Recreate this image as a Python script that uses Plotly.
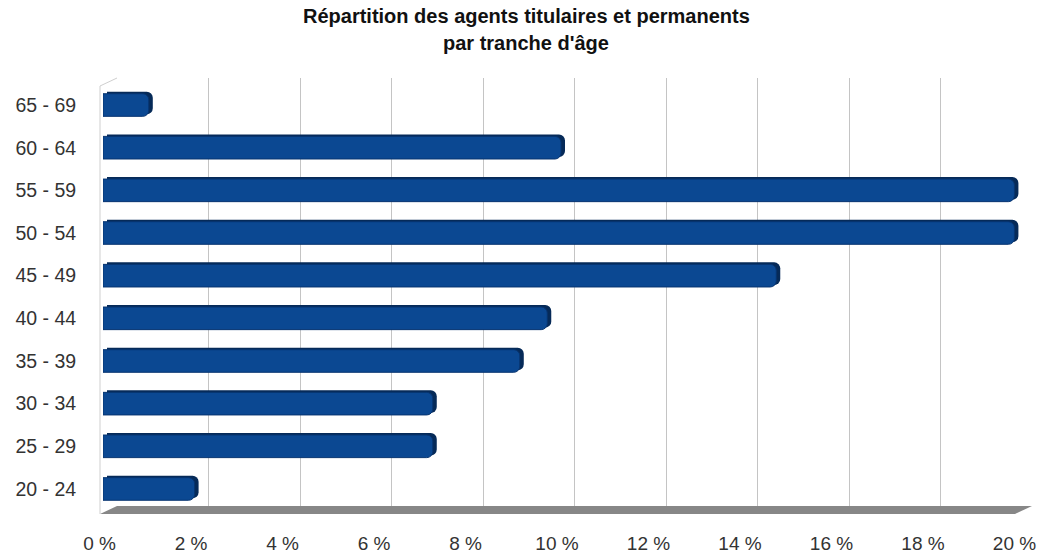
import plotly.graph_objects as go

# Age brackets, bottom to top
tranches = ["20 - 24", "25 - 29", "30 - 34", "35 - 39", "40 - 44",
            "45 - 49", "50 - 54", "55 - 59", "60 - 64", "65 - 69"]
# Share of agents per bracket (%)
parts = [2.0, 7.2, 7.2, 9.1, 9.7, 14.7, 19.9, 19.9, 10.0, 1.0]

x_ticks = list(range(0, 21, 2))
x_ticktext = [f"{v} %" for v in x_ticks]

W, H = 1043, 556
ML, MR, MT, MB = 97, 9, 78, 42
PW, PH = W - ML - MR, H - MT - MB


def fx(px):
    return (px - ML) / PW


def fy(py):
    return (H - MB - py) / PH


FONT = "Liberation Sans, Arial, sans-serif"

fig = go.Figure()

# extruded side of the bars (behind, shifted back)
fig.add_trace(go.Bar(
    y=tranches, x=parts, orientation="h",
    xaxis="x3", yaxis="y3", width=0.53,
    marker=dict(color="#062a58", cornerradius=6, line=dict(width=0)),
    hoverinfo="skip", showlegend=False,
))
# front face of the bars
fig.add_trace(go.Bar(
    y=tranches, x=parts, orientation="h",
    xaxis="x4", yaxis="y4", width=0.53,
    marker=dict(color="#0b4892", cornerradius=6,
                line=dict(width=1, color="#073470")),
    showlegend=False,
))
# empty traces so the label axis and the grid axis are drawn
fig.add_trace(go.Scatter(x=[None], y=[None], xaxis="x", yaxis="y",
                         showlegend=False, hoverinfo="skip"))
fig.add_trace(go.Scatter(x=[None], y=[None], xaxis="x2", yaxis="y2",
                         showlegend=False, hoverinfo="skip"))

# floor and left wall outline
fl = [(100, 514), (1015, 514), (1032, 506), (117, 506)]
path = "M " + " L ".join(f"{fx(a):.5f},{fy(b):.5f}" for a, b in fl) + " Z"
shapes = [
    dict(type="path", path=path, xref="paper", yref="paper",
         fillcolor="#878787", line=dict(width=0), layer="below"),
    dict(type="line", xref="paper", yref="paper",
         x0=fx(100), y0=fy(514), x1=fx(100), y1=fy(86),
         line=dict(color="#cfcfcf", width=1), layer="below"),
    dict(type="line", xref="paper", yref="paper",
         x0=fx(100), y0=fy(86), x1=fx(117), y1=fy(78),
         line=dict(color="#cfcfcf", width=1), layer="below"),
]

title_font = dict(family=FONT, size=20, color="#111111")
title_lines = ["<b>Répartition des agents titulaires et permanents</b>",
               "<b>par tranche d'âge</b>"]

fig.update_layout(
    width=W, height=H,
    margin=dict(l=ML, r=MR, t=MT, b=MB, autoexpand=False),
    paper_bgcolor="white", plot_bgcolor="rgba(0,0,0,0)",
    font=dict(family=FONT, size=20, color="#333333"),
    annotations=[
        dict(text=title_lines[0], xref="paper", yref="paper",
             x=fx(526), y=fy(29), xanchor="center", yanchor="bottom",
             showarrow=False, font=title_font),
        dict(text=title_lines[1], xref="paper", yref="paper",
             x=fx(526), y=fy(30), xanchor="center", yanchor="top",
             showarrow=False, font=title_font),
    ],
    shapes=shapes,
    # front axis carrying the % labels
    xaxis=dict(domain=[fx(99.5), fx(1014.5)], range=[0, 20], anchor="y",
               tickvals=x_ticks, ticktext=x_ticktext, automargin=False,
               showgrid=False, zeroline=False, showline=False,
               ticks="outside", ticklen=12, tickcolor="rgba(0,0,0,0)",
               tickfont=dict(size=19, color="#333333")),
    yaxis=dict(domain=[fy(514), fy(86)], visible=False, range=[0, 1]),
    # back wall grid
    xaxis2=dict(domain=[fx(117), fx(1032)], range=[0, 20], anchor="y2",
                tickvals=x_ticks, showticklabels=False,
                showgrid=True, gridcolor="#c4c4c4", gridwidth=1,
                zeroline=False, showline=False),
    yaxis2=dict(domain=[fy(506), fy(78)], visible=False, range=[0, 1]),
    # extruded sides
    xaxis3=dict(domain=[fx(107), fx(1023)], range=[0, 20], anchor="y3",
                visible=False),
    yaxis3=dict(domain=[fy(508.3), fy(81.7)], anchor="x3",
                type="category", categoryorder="array",
                categoryarray=tranches, range=[-0.5, 9.5], visible=False),
    # front bar faces + category labels
    xaxis4=dict(domain=[fx(103), fx(1019)], range=[0, 20], anchor="y4",
                visible=False),
    yaxis4=dict(domain=[fy(510.3), fy(83.7)], anchor="free", position=0,
                type="category", categoryorder="array",
                categoryarray=tranches, range=[-0.5, 9.5], automargin=False,
                showgrid=False, zeroline=False, showline=False,
                ticks="outside", ticklen=17, tickcolor="rgba(0,0,0,0)",
                tickfont=dict(size=19.5, color="#333333")),
)

fig.write_html("out.html")
